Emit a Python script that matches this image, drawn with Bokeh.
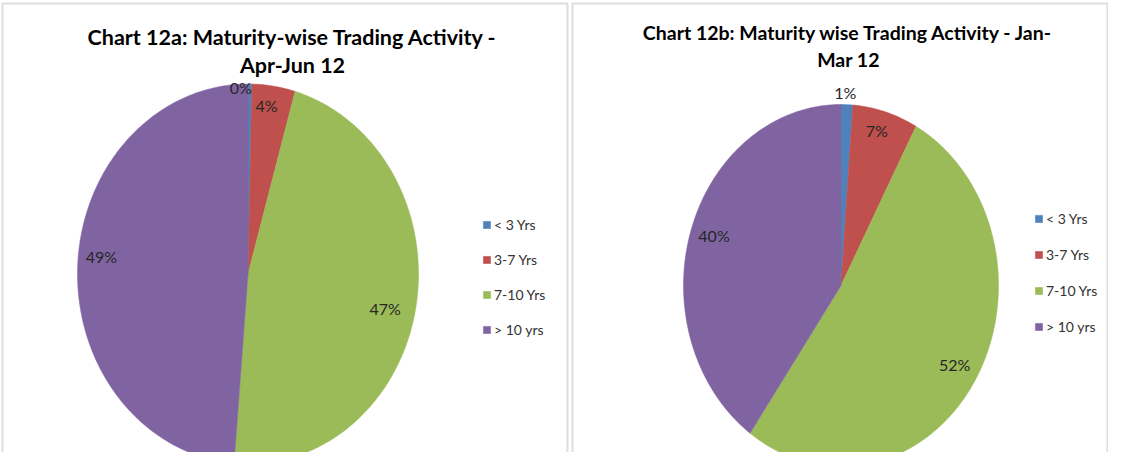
import numpy as np
from bokeh.plotting import figure
from bokeh.models import Range1d, Legend, LegendItem, Label, BoxAnnotation, ColumnDataSource
from bokeh.embed import file_html
from bokeh.resources import INLINE
from bokeh.core.properties import value

# ---- data ----
categories = ["< 3 Yrs", "3-7 Yrs", "7-10 Yrs", "> 10 yrs"]
colors = ["#4F81BD", "#C0504D", "#9BBB59", "#8064A2"]
apr_jun_12 = [0.35, 4.1, 46.85, 48.7]
jan_mar_12 = [1.2, 6.7, 51.9, 40.2]
title_a = ["Chart 12a: Maturity-wise Trading Activity -", "Apr-Jun 12"]
title_b = ["Chart 12b: Maturity wise Trading Activity - Jan-", "Mar 12"]

# ---- layout: data space == figure pixel space ----
W, H = 1108, 452
FONT = "Lato"

p = figure(width=W, height=H, x_range=Range1d(0, W), y_range=Range1d(H, 0),
           x_axis_type=None, y_axis_type=None, output_backend="svg",
           toolbar_location=None, min_border=0)
p.grid.visible = False
p.outline_line_color = None

# panel borders
for l, r in [(2, 567), (572, 1107)]:
    p.add_layout(BoxAnnotation(left=l, right=r, top=3, bottom=600, fill_alpha=0,
                               line_color="#8e8e8e", line_width=2))


def pie(vals, cx, cy, rx, ry, label_r, nudges, title, tx, ty, tsize, legend_loc, spacing):
    total = float(sum(vals))
    xs, ys, lx, ly, txt = [], [], [], [], []
    start = 0.0
    for v, fr, (ndx, ndy) in zip(vals, label_r, nudges):
        a0 = start / total * 2 * np.pi
        a1 = (start + v) / total * 2 * np.pi
        n = max(int(np.degrees(a1 - a0)), 2) + 1
        t = np.linspace(a0, a1, n)
        xs.append([cx] + list(cx + rx * np.sin(t)))
        ys.append([cy] + list(cy - ry * np.cos(t)))
        am = (a0 + a1) / 2
        lx.append(cx + fr * rx * np.sin(am) + ndx)
        ly.append(cy - fr * ry * np.cos(am) + ndy)
        txt.append(f"{round(v)}%")
        start += v
    src = ColumnDataSource(dict(xs=xs, ys=ys, color=colors, cat=categories))
    r = p.patches("xs", "ys", source=src, fill_color="color", line_color="color",
                  line_width=0.5)
    lsrc = ColumnDataSource(dict(x=lx, y=ly, t=txt))
    p.text("x", "y", text="t", source=lsrc, text_font=value(FONT),
           text_font_size="16px", text_color="#262626",
           text_align="center", text_baseline="middle")
    for line, yy in zip(title, ty):
        p.add_layout(Label(x=tx, y=yy, text=line, text_font=FONT,
                           text_font_size=tsize, text_font_style="bold",
                           text_color="#000000", text_align="center",
                           text_baseline="middle"))
    leg = Legend(items=[LegendItem(label=c, renderers=[r], index=i)
                        for i, c in enumerate(categories)],
                 location=legend_loc, glyph_width=9, glyph_height=9,
                 label_text_font=FONT, label_text_font_size="14px",
                 label_text_color="#333333", spacing=spacing, padding=0,
                 margin=0, border_line_alpha=0, background_fill_alpha=0,
                 label_standoff=3, label_height=20)
    p.add_layout(leg)


pie(apr_jun_12, 247.5, 273.5, 170.5, 190, [0.97, 0.88, 0.83, 0.86],
    [(-9, -2), (-4, -3), (-2, 6), (0, -11)],
    title_a, 292, [36, 64], "21.5px", (482, 113), 15)
pie(jan_mar_12, 840.5, 285, 157.5, 181, [1.06, 0.875, 0.85, 0.846],
    [(-2, -1), (-3, -3), (0, -2), (0, -4)],
    title_b, 848, [32, 59], "19.5px", (1034, 116), 16)

open("out.html", "w").write(file_html(p, INLINE))
